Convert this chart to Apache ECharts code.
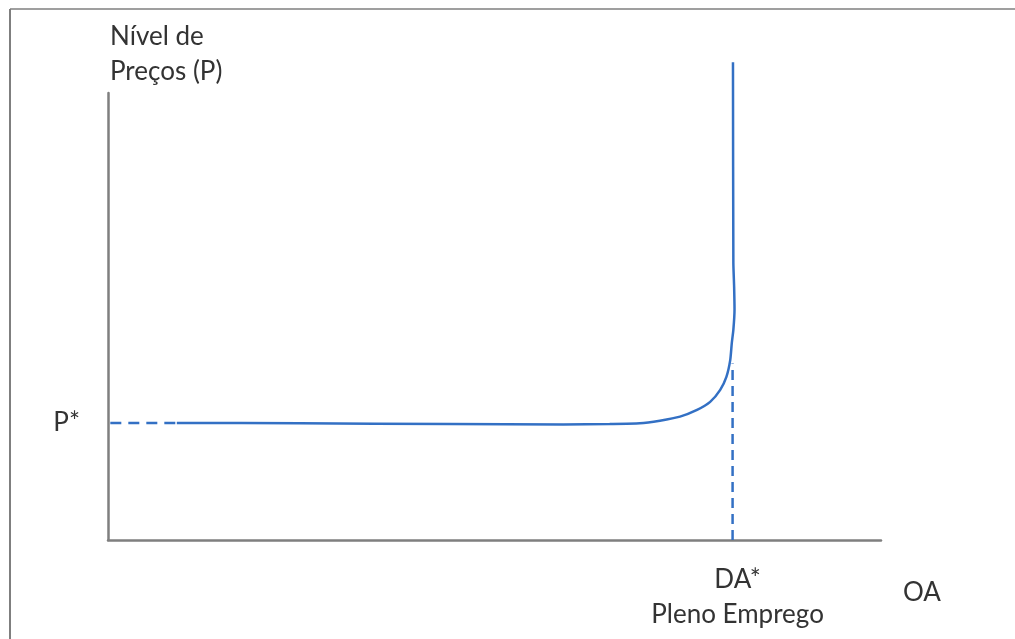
<!DOCTYPE html>
<html>
<head>
<meta charset="utf-8">
<title>Oferta Agregada</title>
<script src="https://cdn.jsdelivr.net/npm/echarts@6/dist/echarts.min.js"></script>
<style>
  html, body { margin: 0; padding: 0; background: #ffffff; }
  #chart { width: 1015px; height: 639px; }
</style>
</head>
<body>
<div id="chart"></div>
<script>
// Equilibrium references
const priceLevel = 26.2;      // P*
const fullEmployment = 80.8;  // DA* (pleno emprego)

// Aggregate supply (OA): flat at P*, bending up to vertical at full employment
const supplyOutput = [8.9, 24.8, 44.2, 58.9, 64.9, 68.8, 71.4, 74.0, 76.2, 77.9, 79.2, 80.0, 80.5, 80.7, 80.9, 81.05, 81.0, 80.9, 80.85];
const supplyPrice  = [26.2, 26.1, 25.95, 25.85, 25.95, 26.1, 26.7, 27.6, 29.1, 30.9, 33.6, 36.5, 40.3, 44.1, 47.0, 51.5, 56.6, 62.0, 106.9];

// Dashed guide from the price axis to the start of the curve
const guideOutput = [0.3, 8.9];

// Dashed drop line from the curve down to DA*
const dropPrice = [0, 39.5];

// Text
const yTitle = 'Nível de\nPreços (P)';
const xTitle = 'OA';
const yTickText = 'P*';
const xTickText = 'DA*\nPleno Emprego';

const blue = '#3370c4';
const axisGray = '#7f7f7f';
const textColor = '#333333';
const fontFamily = 'Lato, "Open Sans", sans-serif';
const fontSize = 26;

const chart = echarts.init(document.getElementById('chart'), null, { renderer: 'canvas' });

chart.setOption({
  backgroundColor: '#ffffff',
  animation: false,
  grid: { left: 108, right: 134, top: 93, bottom: 99, containLabel: false },
  xAxis: {
    type: 'value', min: 0, max: 100,
    name: xTitle,
    nameLocation: 'end',
    nameGap: 22,
    nameTextStyle: {
      color: textColor, fontFamily, fontSize,
      align: 'left', verticalAlign: 'top', padding: [40, 0, 0, 0]
    },
    axisLine: { show: true, lineStyle: { color: axisGray, width: 2.5 } },
    axisTick: { show: false },
    splitLine: { show: false },
    axisLabel: {
      customValues: [fullEmployment],
      formatter: () => xTickText,
      color: textColor, fontFamily, fontSize, lineHeight: 35,
      margin: 22, align: 'center', padding: [0, 0, 0, 10]
    }
  },
  yAxis: {
    type: 'value', min: 0, max: 100,
    name: yTitle,
    nameLocation: 'end',
    nameGap: 4,
    nameTextStyle: {
      color: textColor, fontFamily, fontSize, lineHeight: 35,
      align: 'left', verticalAlign: 'bottom', padding: [0, 0, 0, 2]
    },
    axisLine: { show: true, lineStyle: { color: axisGray, width: 2.5 } },
    axisTick: { show: false },
    splitLine: { show: false },
    axisLabel: {
      customValues: [priceLevel],
      formatter: () => yTickText,
      color: textColor, fontFamily, fontSize,
      margin: 28, padding: [0, 0, 22, 0]
    }
  },
  graphic: [
    // page frame
    { type: 'line', shape: { x1: 10, y1: 9, x2: 1015, y2: 9 }, style: { stroke: axisGray, lineWidth: 1.5 }, z: 100 },
    { type: 'line', shape: { x1: 10, y1: 9, x2: 10, y2: 639 }, style: { stroke: axisGray, lineWidth: 2 }, z: 100 }
  ],
  series: [
    {
      name: 'OA',
      type: 'line',
      data: supplyOutput.map((x, i) => [x, supplyPrice[i]]),
      showSymbol: false,
      clip: false,
      smooth: 0.2,
      lineStyle: { color: blue, width: 2.5 },
      z: 5
    },
    {
      name: 'P* guia',
      type: 'line',
      data: guideOutput.map(x => [x, priceLevel]),
      showSymbol: false,
      lineStyle: { color: blue, width: 2.5, type: [11, 7] },
      z: 4
    },
    {
      name: 'DA* guia',
      type: 'line',
      data: dropPrice.map(y => [fullEmployment, y]),
      showSymbol: false,
      lineStyle: { color: blue, width: 2.5, type: [10, 6] },
      z: 4
    }
  ]
});
</script>
</body>
</html>
